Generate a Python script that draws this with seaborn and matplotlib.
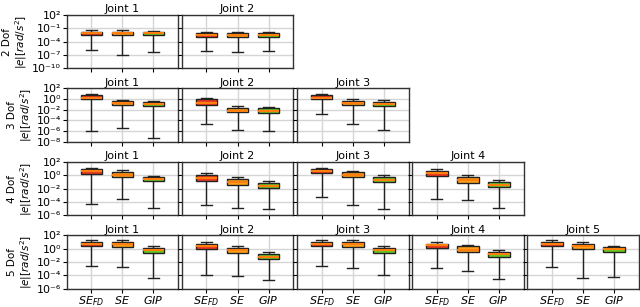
import numpy as np
import pandas as pd
import matplotlib
matplotlib.use("Agg")
import matplotlib.pyplot as plt
import seaborn as sns
from matplotlib.ticker import NullLocator, FuncFormatter

methods = [r"$SE_{FD}$", r"$SE$", r"$GIP$"]
dof_labels = ["2 Dof", "3 Dof", "4 Dof", "5 Dof"]
box_colors = ["#ee3a22", "#ffa01a", "#66cc22"]

# log10 of [lower whisker, q1, median, q3, upper whisker], per joint, per method
dof2 = [
    [[-5.9, -2.52, -2.1, -1.78, -1.47], [-6.9, -2.52, -2.1, -1.78, -1.47], [-6.3, -2.55, -2.15, -1.8, -1.5]],
    [[-6.1, -2.9, -2.5, -2.14, -1.9], [-6.3, -2.9, -2.5, -2.14, -1.9], [-6.0, -2.9, -2.5, -2.14, -1.9]],
]
dof3 = [
    [[-6.07, 0.01, 0.26, 0.76, 1.0], [-5.45, -1.1, -0.67, -0.36, -0.11], [-7.3, -1.35, -0.98, -0.6, -0.36]],
    [[-4.6, -1.1, -0.73, -0.05, 0.26], [-5.76, -2.4, -2.2, -1.6, -1.3], [-6.0, -2.6, -2.2, -1.73, -1.4]],
    [[-2.84, 0.0, 0.3, 0.7, 0.94], [-4.65, -1.17, -0.73, -0.36, -0.05], [-5.83, -1.35, -0.92, -0.55, -0.24]],
]
dof4 = [
    [[-4.37, 0.25, 0.6, 0.9, 1.1], [-3.57, -0.3, 0.1, 0.5, 0.8], [-4.87, -0.94, -0.64, -0.3, -0.05]],
    [[-4.5, -0.84, -0.4, 0.0, 0.3], [-4.97, -1.4, -1.0, -0.6, -0.24], [-5.1, -1.94, -1.6, -1.24, -0.94]],
    [[-3.27, 0.3, 0.6, 0.9, 1.1], [-4.47, -0.3, 0.0, 0.45, 0.7], [-5.06, -1.04, -0.7, -0.3, 0.0]],
    [[-3.52, -0.05, 0.4, 0.6, 0.9], [-3.77, -1.1, -0.7, -0.3, 0.0], [-5.0, -1.7, -1.4, -1.0, -0.75]],
]
dof5 = [
    [[-2.6, 0.33, 0.73, 1.0, 1.26], [-2.75, 0.28, 0.63, 1.0, 1.3], [-4.4, -0.6, -0.25, 0.1, 0.38]],
    [[-3.9, 0.0, 0.43, 0.7, 0.97], [-4.1, -0.7, -0.25, 0.14, 0.43], [-4.67, -1.6, -1.3, -0.8, -0.5]],
    [[-2.65, 0.43, 0.77, 1.0, 1.3], [-2.9, 0.23, 0.68, 1.0, 1.3], [-3.9, -0.6, -0.2, 0.14, 0.43]],
    [[-2.95, 0.04, 0.48, 0.77, 1.0], [-3.3, -0.55, -0.15, 0.33, 0.58], [-4.6, -1.25, -0.85, -0.55, -0.25]],
    [[-2.7, 0.38, 0.63, 1.0, 1.3], [-4.4, -0.1, 0.33, 0.63, 0.97], [-4.2, -0.55, -0.05, 0.2, 0.43]],
]
rows = [dof2, dof3, dof4, dof5]
ylims = [(1e-10, 1e2), (1e-8, 1e2), (1e-6, 1e2), (1e-6, 1e2)]
yticks = [
    [1e-10, 1e-7, 1e-4, 1e-1, 1e2],
    [1e-8, 1e-6, 1e-4, 1e-2, 1e0, 1e2],
    [1e-6, 1e-4, 1e-2, 1e0, 1e2],
    [1e-6, 1e-4, 1e-2, 1e0, 1e2],
]

records = []
for r, row in enumerate(rows):
    for j, joint in enumerate(row):
        for m, stats in enumerate(joint):
            for v in stats:
                records.append({"row": r, "joint": j, "method": methods[m], "err": 10.0 ** v})
df = pd.DataFrame(records)

sup = str.maketrans("-0123456789", "⁻⁰¹²³⁴⁵⁶⁷⁸⁹")


def pow10(v, pos):
    return "10" + str(int(round(np.log10(v)))).translate(sup)


plt.rcParams["axes.edgecolor"] = "#333333"
plt.rcParams["axes.linewidth"] = 1.0
plt.rcParams["xtick.major.size"] = 3
plt.rcParams["ytick.major.size"] = 3

fig, axes = plt.subplots(
    4, 5, figsize=(6.4, 3.07), dpi=100, sharey="row",
    gridspec_kw=dict(left=0.104, right=0.998, top=0.951, bottom=0.06, wspace=0.03, hspace=0.38),
)

for r, row in enumerate(rows):
    for j in range(5):
        ax = axes[r, j]
        if j >= len(row):
            ax.set_visible(False)
            continue
        sub = df[(df["row"] == r) & (df["joint"] == j)]
        sns.boxplot(
            data=sub, x="method", y="err", hue="method", order=methods, hue_order=methods,
            palette=box_colors, saturation=1, whis=(0, 100), showfliers=False, width=0.7,
            linecolor="#222222", linewidth=1, log_scale=True, legend=False, ax=ax,
            medianprops=dict(color="#ff7f0e", linewidth=1.5),
        )
        ax.set_ylim(*ylims[r])
        ax.set_yticks(yticks[r])
        ax.yaxis.set_major_formatter(FuncFormatter(pow10))
        ax.yaxis.set_minor_locator(NullLocator())
        ax.set_xlim(-0.8, 2.8)
        ax.grid(True, color="#d5d5d5", linewidth=1)
        ax.set_axisbelow(True)
        ax.set_title(f"Joint {j + 1}", fontsize=8, pad=2)
        ax.set_xlabel("")
        ax.tick_params(axis="y", labelsize=8, pad=1)
        if r < 3:
            ax.set_xticklabels([])
        else:
            ax.tick_params(axis="x", labelsize=8, pad=1)
        if j == 0:
            ax.set_ylabel(f"{dof_labels[r]}\n" + r"$|e|[rad/s^2]$", fontsize=7.5,
                          labelpad=2, linespacing=1.1)
        else:
            ax.set_ylabel("")

plt.savefig("out.png", dpi=100)
